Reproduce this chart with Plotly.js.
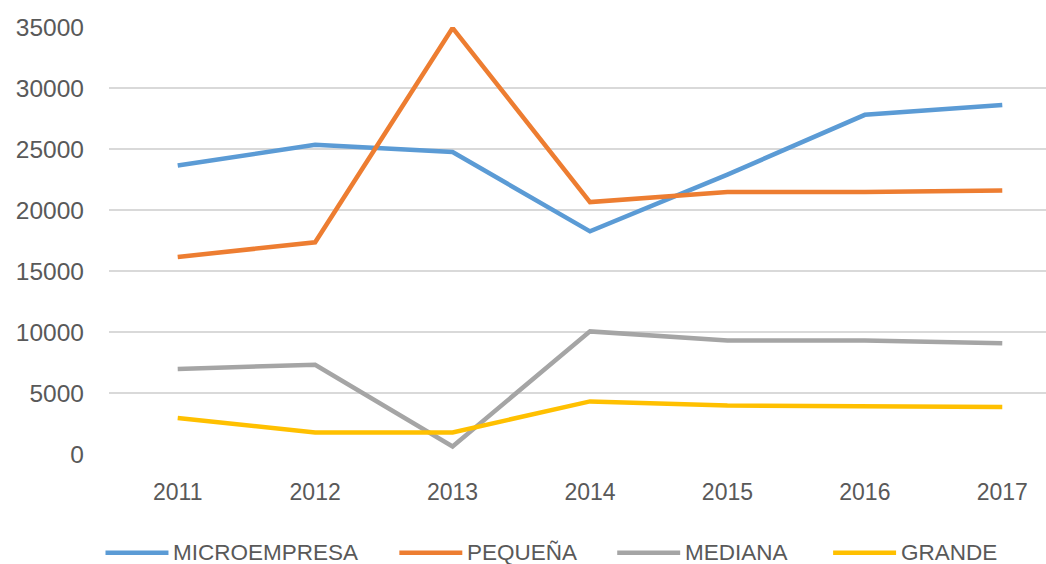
<!DOCTYPE html>
<html>
<head>
<meta charset="utf-8">
<script src="https://cdn.plot.ly/plotly-3.0.1.min.js"></script>
<style>
  html, body { margin: 0; padding: 0; background: #ffffff; }
  #chart { width: 1046px; height: 564px; }
</style>
</head>
<body>
<div id="chart"></div>
<script>
// ---- data ----
const years = ["2011", "2012", "2013", "2014", "2015", "2016", "2017"];
const seriesNames = ["MICROEMPRESA", "PEQUEÑA", "MEDIANA", "GRANDE"];
const microempresa = [23650, 25350, 24750, 18250, 22900, 27800, 28600];
const pequena      = [16150, 17350, 34920, 20650, 21470, 21470, 21600];
const mediana      = [6970, 7320, 620, 10050, 9310, 9300, 9070];
const grande       = [2950, 1770, 1770, 4310, 3980, 3960, 3850];
const yTicks = [0, 5000, 10000, 15000, 20000, 25000, 30000, 35000];

// ---- styling ----
const colors = ["#5B9BD5", "#ED7D31", "#A5A5A5", "#FFC000"];
const allValues = [microempresa, pequena, mediana, grande];
const textColor = "#595959";
const fontFamily = "Liberation Sans, Arial, sans-serif";

const L = 108.5, T = 27.3, W = 1046 - L, H = 427;
const B = 564 - T - H;

const traces = allValues.map((vals, i) => ({
  x: years,
  y: vals,
  name: seriesNames[i],
  type: "scatter",
  mode: "lines",
  line: { color: colors[i], width: 4.5 },
  cliponaxis: false,
  showlegend: false
}));

// custom legend (line sample + label), positioned in pixels
const legendLineStart = [105, 399, 617, 833];
const lineLen = 63;
const legendY = 553;
const px2x = px => (px - L) / W;
const py2y = py => (T + H - py) / H;

const shapes = [];
const annotations = [];
seriesNames.forEach((name, i) => {
  const x0 = legendLineStart[i];
  shapes.push({
    type: "line", xref: "paper", yref: "paper",
    x0: px2x(x0), x1: px2x(x0 + lineLen),
    y0: py2y(legendY), y1: py2y(legendY),
    line: { color: colors[i], width: 4.5 }
  });
  annotations.push({
    xref: "paper", yref: "paper",
    x: px2x(x0 + lineLen + 3), y: py2y(legendY - 0.5),
    xanchor: "left", yanchor: "middle",
    text: name, showarrow: false,
    font: { family: fontFamily, size: 22.5, color: textColor }
  });
});

const layout = {
  width: 1046,
  height: 564,
  paper_bgcolor: "#ffffff",
  plot_bgcolor: "#ffffff",
  margin: { l: L, r: 0, t: T, b: B, pad: 0 },
  showlegend: false,
  font: { family: fontFamily, size: 22, color: textColor },
  xaxis: {
    type: "category",
    range: [-0.5, -0.5 + W / 137.5],
    showgrid: false,
    zeroline: false,
    showline: false,
    ticks: "",
    ticklabelstandoff: 22,
    tickfont: { family: fontFamily, size: 23, color: textColor },
    fixedrange: true
  },
  yaxis: {
    range: [0, 35000],
    tickvals: yTicks,
    ticktext: yTicks.map(String),
    showgrid: true,
    gridcolor: "#D9D9D9",
    gridwidth: 1.5,
    zeroline: false,
    showline: false,
    ticks: "",
    ticklabelstandoff: 24,
    tickfont: { family: fontFamily, size: 24.5, color: textColor },
    fixedrange: true
  },
  shapes: shapes,
  annotations: annotations
};

Plotly.newPlot("chart", traces, layout, { displayModeBar: false, staticPlot: true });
</script>
</body>
</html>
